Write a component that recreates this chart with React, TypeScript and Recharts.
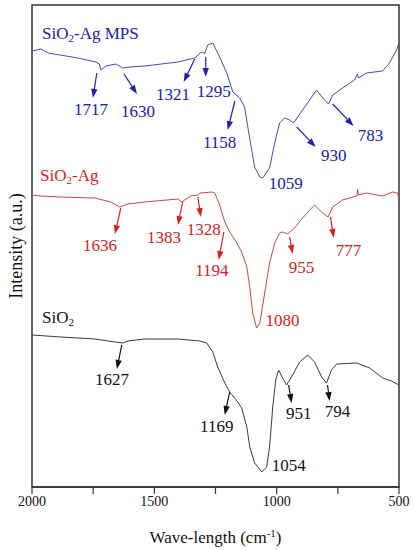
import React from 'react';
import { ComposedChart, Line, XAxis, YAxis, ReferenceLine, ReferenceDot, ReferenceArea } from 'recharts';

// Wavenumbers (cm-1) and intensities (a.u., offset stacked)
const mpsWave = [2000, 1963, 1935, 1812, 1739, 1725, 1718, 1698, 1657, 1630, 1600, 1539, 1404, 1335, 1321, 1314, 1302, 1295, 1282, 1261, 1233, 1204, 1179, 1151, 1131, 1118, 1102, 1090, 1069, 1057, 1029, 1008, 988, 967, 947, 931, 894, 857, 837, 812, 788, 771, 731, 682, 670, 666, 633, 567, 539, 510, 500];
const mpsInt = [436, 438, 434, 429, 425, 423, 417, 421, 423, 419, 420, 421, 425, 429, 432, 434, 435, 433, 442, 444, 430, 414, 395, 389, 380, 360, 337, 320, 310, 309, 319, 344, 364, 369, 367, 364, 377, 390, 397, 389, 383, 392, 399, 407, 413, 409, 414, 416, 424, 437, 444];

const agWave = [2000, 1963, 1882, 1743, 1678, 1641, 1608, 1539, 1404, 1388, 1351, 1322, 1314, 1265, 1253, 1233, 1212, 1192, 1165, 1143, 1122, 1110, 1098, 1082, 1069, 1049, 1029, 1008, 988, 976, 955, 927, 894, 865, 845, 816, 790, 771, 731, 672, 669, 666, 633, 567, 527, 505, 500];
const agInt = [292, 291, 290, 289, 285, 280, 283, 285, 288, 285, 291, 292, 294, 295, 294, 282, 265, 255, 245, 235, 220, 200, 174, 159, 164, 194, 224, 244, 254, 255, 253, 259, 269, 277, 282, 275, 270, 280, 287, 291, 298, 292, 294, 291, 295, 294, 285];

const siWave = [2000, 1882, 1743, 1661, 1629, 1608, 1539, 1404, 1314, 1286, 1261, 1241, 1212, 1192, 1165, 1143, 1122, 1110, 1090, 1061, 1041, 1029, 1016, 1004, 992, 976, 959, 935, 906, 873, 845, 816, 796, 776, 755, 673, 620, 567, 531, 500];
const siInt = [152, 150, 148, 145, 144, 146, 148, 148, 146, 144, 135, 120, 104, 95, 87, 79, 60, 40, 24, 15, 20, 40, 80, 107, 117, 109, 102, 112, 125, 132, 125, 110, 104, 117, 123, 124, 119, 109, 106, 102];

const xTicks = [2000, 1750, 1500, 1250, 1000, 750, 500];

// Peak labels: [text, wavenumber, intensity]
const mpsLabels: [string, number, number][] = [
  ['1717', 1759, 378], ['1630', 1567, 376], ['1321', 1424, 393], ['1295', 1257, 396],
  ['1158', 1233, 345], ['1059', 963, 304], ['930', 767, 332], ['783', 616, 352],
];
const agLabels: [string, number, number][] = [
  ['1636', 1722, 242], ['1383', 1461, 250], ['1328', 1298, 258], ['1194', 1265, 217],
  ['1080', 976, 167], ['955', 898, 220], ['777', 706, 237],
];
const siLabels: [string, number, number][] = [
  ['1627', 1673, 108], ['1169', 1245, 61], ['1054', 951, 22], ['951', 910, 74], ['794', 751, 76],
];

// Arrows: [fromW, fromI, toW, toI]
const mpsArrows: [number, number, number, number][] = [
  [1735, 414, 1751, 389], [1624, 413, 1571, 393], [1335, 428, 1380, 405], [1290, 430, 1290, 410],
  [1171, 386, 1200, 357], [918, 360, 841, 340], [771, 383, 686, 361],
];
const agArrows: [number, number, number, number][] = [
  [1637, 279, 1661, 253], [1384, 285, 1404, 262], [1322, 290, 1310, 270], [1216, 255, 1237, 227],
  [947, 250, 935, 233], [780, 270, 767, 249],
];
const siArrows: [number, number, number, number][] = [
  [1633, 142, 1653, 118], [1192, 95, 1212, 72], [951, 102, 939, 84], [792, 102, 784, 86],
];

// Series names: [name, wavenumber (left edge), intensity]
const seriesNames: [string, number, number, string][] = [
  ['-Ag MPS', 1959, 454, 'mps'],
  ['-Ag', 1967, 312, 'ag'],
  ['', 1959, 170, 'si'],
];

const toData = (w: number[], v: number[]) => w.map((x, i) => ({ w: x, v: v[i] }));
const mpsData = toData(mpsWave, mpsInt);
const agData = toData(agWave, agInt);
const siData = toData(siWave, siInt);

const FONT = '"Liberation Serif", "Times New Roman", serif';
const COLORS: Record<string, { line: string; text: string }> = {
  mps: { line: '#4848b8', text: '#2020b0' },
  ag: { line: '#c84646', text: '#d42222' },
  si: { line: '#3a3a3a', text: '#111111' },
};

const arrowShape = (color: string) => (p: any) => {
  const { x1, y1, x2, y2 } = p;
  const dx = x2 - x1;
  const dy = y2 - y1;
  const len = Math.hypot(dx, dy) || 1;
  const ux = dx / len;
  const uy = dy / len;
  const hl = 9;
  const hw = 3.2;
  const bx = x2 - ux * hl;
  const by = y2 - uy * hl;
  const pts = `${x2},${y2} ${bx - uy * hw},${by + ux * hw} ${bx + uy * hw},${by - ux * hw}`;
  return (
    <g>
      <line x1={x1} y1={y1} x2={bx} y2={by} stroke={color} strokeWidth={1.2} />
      <polygon points={pts} fill={color} />
    </g>
  );
};

const labelShape = (text: string, color: string) => (p: any) => (
  <text x={p.cx} y={p.cy} textAnchor="middle" dominantBaseline="central" fontSize={17} fontFamily={FONT} fill={color}>
    {text}
  </text>
);

const nameShape = (rest: string, color: string) => (p: any) => (
  <text x={p.cx} y={p.cy} dominantBaseline="central" fontSize={17} fontFamily={FONT} fill={color}>
    SiO
    <tspan dy={5} fontSize={11}>2</tspan>
    <tspan dy={-5}>{rest}</tspan>
  </text>
);

const renderAnnotations = (key: string, labels: [string, number, number][], arrows: [number, number, number, number][]) => {
  const c = COLORS[key].text;
  const out: React.ReactNode[] = [];
  arrows.forEach((a, i) => {
    out.push(
      <ReferenceLine
        key={`${key}-a-${i}`}
        segment={[{ x: a[0], y: a[1] }, { x: a[2], y: a[3] }]}
        ifOverflow="visible"
        shape={arrowShape(c)}
      />
    );
  });
  labels.forEach((l, i) => {
    out.push(
      <ReferenceDot key={`${key}-l-${i}`} x={l[1]} y={l[2]} r={1} ifOverflow="visible" shape={labelShape(l[0], c)} />
    );
  });
  return out;
};

const xTitle = (p: any) => {
  const vb = p.viewBox || { x: 32, y: 487, width: 367, height: 63 };
  const cx = vb.x + vb.width / 2;
  return (
    <text x={cx} y={vb.y + 56} textAnchor="middle" fontSize={17} fontFamily={FONT} fill="#111">
      Wave-length (cm
      <tspan dy={-6} fontSize={11}>-1</tspan>
      <tspan dy={6}>)</tspan>
    </text>
  );
};

export default function App() {
  return (
    <div style={{ position: 'absolute', left: 0, top: 0, width: 413, height: 550, background: '#fff' }}>
      <ComposedChart width={413} height={550} margin={{ top: 5, right: 14, left: 0, bottom: 0 }}>
        <XAxis
          type="number"
          dataKey="w"
          domain={[500, 2000]}
          reversed
          ticks={xTicks}
          interval={0}
          tickFormatter={(t: number) => (t % 500 === 0 ? String(t) : '')}
          tickSize={7}
          height={63}
          axisLine={{ stroke: '#333', strokeWidth: 1.5 }}
          tickLine={{ stroke: '#333', strokeWidth: 1.2 }}
          tick={{ fontSize: 14, fill: '#111', fontFamily: FONT }}
          label={{ content: xTitle }}
        />
        <YAxis
          type="number"
          dataKey="v"
          domain={[0, 482]}
          width={32}
          tick={false}
          tickLine={false}
          axisLine={false}
          label={{ value: 'Intensity (a.u.)', angle: -90, position: 'center', fontSize: 18, fontFamily: FONT, fill: '#111' }}
        />
        <ReferenceArea x1={500} x2={2000} y1={0} y2={482} fill="none" stroke="#333" strokeWidth={1.5} ifOverflow="visible" />
        <Line data={mpsData} dataKey="v" type="linear" stroke={COLORS.mps.line} strokeWidth={1} dot={false} isAnimationActive={false} />
        <Line data={agData} dataKey="v" type="linear" stroke={COLORS.ag.line} strokeWidth={1} dot={false} isAnimationActive={false} />
        <Line data={siData} dataKey="v" type="linear" stroke={COLORS.si.line} strokeWidth={1} dot={false} isAnimationActive={false} />
        {renderAnnotations('mps', mpsLabels, mpsArrows)}
        {renderAnnotations('ag', agLabels, agArrows)}
        {renderAnnotations('si', siLabels, siArrows)}
        {seriesNames.map((s) => (
          <ReferenceDot key={`name-${s[3]}`} x={s[1]} y={s[2]} r={1} ifOverflow="visible" shape={nameShape(s[0], COLORS[s[3]].text)} />
        ))}
      </ComposedChart>
    </div>
  );
}
